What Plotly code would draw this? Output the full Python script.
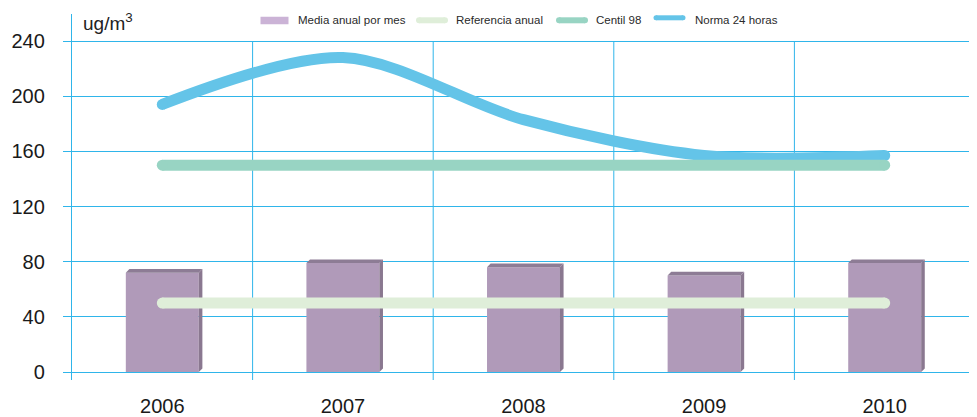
import plotly.graph_objects as go

years = ["2006", "2007", "2008", "2009", "2010"]
media_anual = [72, 79, 76, 70, 79]
referencia_anual = [50, 50, 50, 50, 50]
centil_98 = [150, 150, 150, 150, 150]
norma_24h = [194, 228, 183, 157, 157]
y_ticks = [0, 40, 80, 120, 160, 200, 240]

# the page body adds an 8px offset; the figure is sized to fit the window
OFF = 8
W, H = 977 - OFF, 417 - OFF
ML, MR, MT, MB = 72 - OFF, 2, 14 - OFF, 37
PW, PH = W - ML - MR, H - MT - MB
Y0, Y1 = -5.8, 259.6
X0, X1 = -0.5, 4.5

px_per_cat = PW / (X1 - X0)
px_per_unit = PH / (Y1 - Y0)

GRID = "#2fb5ea"
xs = list(range(len(years)))

fig = go.Figure()

# front faces of bars
bw = 0.404
fig.add_trace(go.Bar(x=xs, y=media_anual, width=bw, marker=dict(color="#b09ab9", line=dict(width=0)),
                     showlegend=False, hoverinfo="skip"))

# 3D faces
dx = 3.6 / px_per_cat
dy = 3.6 / px_per_unit
for xi, v in zip(xs, media_anual):
    l, r = xi - bw / 2, xi + bw / 2
    fig.add_trace(go.Scatter(x=[l, l + dx, r + dx, r, l], y=[v, v + dy, v + dy, v, v], fill="toself",
                             fillcolor="#8d7c95", mode="lines", line=dict(width=0), showlegend=False,
                             hoverinfo="skip"))
    fig.add_trace(go.Scatter(x=[r, r + dx, r + dx, r, r], y=[v, v + dy, dy, 0, v], fill="toself",
                             fillcolor="#8a7890", mode="lines", line=dict(width=0), showlegend=False,
                             hoverinfo="skip"))


def add_line(vals, color, w, shape="linear"):
    fig.add_trace(go.Scatter(x=xs, y=vals, mode="lines",
                             line=dict(color=color, width=w, shape=shape, smoothing=0.9),
                             showlegend=False, hoverinfo="skip"))
    # round caps
    fig.add_trace(go.Scatter(x=[xs[0], xs[-1]], y=[vals[0], vals[-1]], mode="markers",
                             marker=dict(color=color, size=w, opacity=1, line=dict(width=0)),
                             showlegend=False, hoverinfo="skip"))


add_line(norma_24h, "#64c4e8", 11, "spline")
add_line(centil_98, "#98d4c3", 11)
add_line(referencia_anual, "#dfeed9", 11)

shapes = []
# vertical grid lines at category boundaries
for b in [0.5, 1.5, 2.5, 3.5, 4.5]:
    shapes.append(dict(type="line", xref="x", yref="y", x0=b, x1=b, y0=Y0, y1=240,
                       line=dict(color=GRID, width=1), layer="between"))


def px2paper(px, py):
    """screen pixel -> paper coordinates"""
    return (px - OFF - ML) / PW, (H - MB - (py - OFF)) / PH


# legend
legend_items = [
    ("rect", "#cbb3d6", 260.5, 288.5, 20.5, 7.5, "Media anual por mes", 298),
    ("line", "#dfeed9", 419, 445, 20.3, 6, "Referencia anual", 456),
    ("line", "#98d4c3", 559, 585, 20.3, 6, "Centil 98", 596),
    ("line", "#64c4e8", 656, 683, 17.8, 5, "Norma 24 horas", 695),
]
annotations = []
for kind, col, xa, xb, yc, th, label, tx in legend_items:
    if kind == "rect":
        a0, b0 = px2paper(xa, yc + th / 2)
        a1, b1 = px2paper(xb, yc - th / 2)
        shapes.append(dict(type="rect", xref="paper", yref="paper", x0=a0, x1=a1, y0=b0, y1=b1,
                           fillcolor=col, line=dict(width=0)))
    else:
        a0, b0 = px2paper(xa, yc)
        a1, _ = px2paper(xb, yc)
        shapes.append(dict(type="line", xref="paper", yref="paper", x0=a0, x1=a1, y0=b0, y1=b0,
                           line=dict(color=col, width=th)))
        for xx in (xa, xb):
            c0, d0 = px2paper(xx - th / 2, yc + th / 2)
            c1, d1 = px2paper(xx + th / 2, yc - th / 2)
            shapes.append(dict(type="circle", xref="paper", yref="paper", x0=c0, x1=c1, y0=d0, y1=d1,
                               fillcolor=col, line=dict(width=0)))
    ax, ay = px2paper(tx - 2, 20.5)
    annotations.append(dict(text=label, xref="paper", yref="paper", x=ax, y=ay, xanchor="left",
                            yanchor="middle", showarrow=False,
                            font=dict(family="Liberation Sans", size=11.5, color="#2a2a2a")))

ux, uy = px2paper(81, 22)
annotations.append(dict(text="ug/m<sup>3</sup>", xref="paper", yref="paper", x=ux, y=uy, xanchor="left",
                        yanchor="middle", showarrow=False,
                        font=dict(family="Liberation Sans", size=19, color="#222222")))

fig.update_layout(
    width=W, height=H,
    margin=dict(l=ML, r=MR, t=MT, b=MB, pad=0, autoexpand=False),
    paper_bgcolor="white", plot_bgcolor="white",
    barmode="overlay",
    showlegend=False,
    shapes=shapes,
    annotations=annotations,
    xaxis=dict(range=[X0, X1], tickvals=xs, ticktext=years, showgrid=False, zeroline=False,
               showline=False, ticks="", ticklabelstandoff=12, automargin=False,
               tickfont=dict(family="Liberation Sans", size=20, color="#1a1a1a"), fixedrange=True),
    yaxis=dict(range=[Y0, Y1], tickvals=y_ticks, showgrid=True, gridcolor=GRID, gridwidth=1.3,
               zeroline=False, showline=True, linecolor=GRID, linewidth=1.3, automargin=False,
               ticks="outside", ticklen=8, tickcolor=GRID, tickwidth=1.3, ticklabelstandoff=14,
               tickfont=dict(family="Liberation Sans", size=20, color="#1a1a1a"), fixedrange=True),
)

fig.write_html("out.html")
